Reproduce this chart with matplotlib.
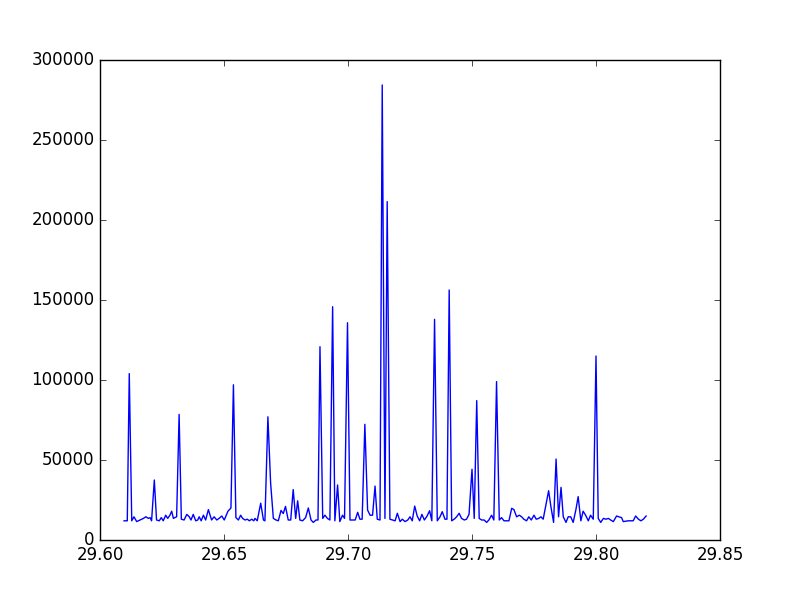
import matplotlib
matplotlib.use("Agg")
import matplotlib.pyplot as plt

# retention time (x) and intensity (y)
time = [
    29.6097, 29.6110, 29.6118, 29.6128, 29.6137, 29.6148, 29.6161, 29.6175,
    29.6185, 29.6195, 29.6202, 29.6208, 29.6219, 29.6228, 29.6239, 29.6247,
    29.6255, 29.6265, 29.6273, 29.6282, 29.6289, 29.6296, 29.6302, 29.6309,
    29.6319, 29.6328, 29.6339, 29.6350, 29.6360, 29.6367, 29.6376, 29.6386,
    29.6394, 29.6400, 29.6408, 29.6417, 29.6426, 29.6437, 29.6450, 29.6460,
    29.6471, 29.6480, 29.6491, 29.6501, 29.6516, 29.6528, 29.6538, 29.6548,
    29.6558, 29.6567, 29.6575, 29.6585, 29.6594, 29.6602, 29.6612, 29.6620,
    29.6625, 29.6634, 29.6648, 29.6659, 29.6665, 29.6677, 29.6688, 29.6699,
    29.6710, 29.6719, 29.6730, 29.6739, 29.6748, 29.6759, 29.6769, 29.6779,
    29.6789, 29.6797, 29.6806, 29.6817, 29.6829, 29.6840, 29.6851, 29.6860,
    29.6871, 29.6879, 29.6887, 29.6898, 29.6907, 29.6917, 29.6927, 29.6938,
    29.6947, 29.6958, 29.6967, 29.6978, 29.6986, 29.6998, 29.7008, 29.7021,
    29.7029, 29.7039, 29.7048, 29.7057, 29.7068, 29.7079, 29.7089, 29.7099,
    29.7109, 29.7118, 29.7129, 29.7138, 29.7149, 29.7158, 29.7169, 29.7180,
    29.7190, 29.7199, 29.7210, 29.7219, 29.7230, 29.7241, 29.7250, 29.7259,
    29.7269, 29.7279, 29.7289, 29.7298, 29.7308, 29.7319, 29.7329, 29.7338,
    29.7349, 29.7360, 29.7371, 29.7380, 29.7391, 29.7399, 29.7408, 29.7418,
    29.7428, 29.7438, 29.7448, 29.7458, 29.7469, 29.7478, 29.7488, 29.7500,
    29.7509, 29.7519, 29.7529, 29.7539, 29.7549, 29.7559, 29.7568, 29.7579,
    29.7588, 29.7599, 29.7610, 29.7619, 29.7629, 29.7640, 29.7649, 29.7660,
    29.7669, 29.7680, 29.7691, 29.7700, 29.7709, 29.7720, 29.7729, 29.7739,
    29.7750, 29.7759, 29.7769, 29.7778, 29.7787, 29.7798, 29.7809, 29.7818,
    29.7829, 29.7839, 29.7849, 29.7859, 29.7868, 29.7879, 29.7888, 29.7898,
    29.7908, 29.7919, 29.7928, 29.7939, 29.7948, 29.7958, 29.7969, 29.7978,
    29.7989, 29.8000, 29.8009, 29.8019, 29.8030, 29.8040, 29.8050, 29.8059,
    29.8070, 29.8083, 29.8092, 29.8103, 29.8110, 29.8130, 29.8150, 29.8160,
    29.8171, 29.8181, 29.8191, 29.8202,
]
intensity = [
    12000, 12000, 104000, 12000, 14500, 11500, 12500, 13500,
    14500, 13500, 14000, 12000, 37500, 12500, 12000, 14000,
    12000, 15500, 13500, 15500, 18000, 13500, 14000, 14500,
    78500, 13000, 12500, 16000, 14500, 12500, 16000, 12000,
    12500, 14500, 12000, 15500, 12500, 19000, 12500, 14500,
    12500, 13500, 15000, 12500, 18000, 20000, 97000, 14000,
    12500, 15500, 13500, 12500, 13000, 12000, 13000, 12000,
    13500, 12000, 23000, 12500, 12000, 77000, 35500, 13500,
    12500, 12000, 18500, 16500, 21000, 12500, 12500, 31500,
    13500, 24500, 12500, 12000, 14000, 20000, 12500, 11000,
    12500, 12500, 120800, 13500, 15500, 13500, 12500, 145800,
    12000, 34400, 11500, 15500, 13500, 135800, 12500, 12500,
    12500, 17300, 13000, 13000, 72300, 18700, 15500, 15500,
    33700, 13000, 12500, 284400, 13500, 211500, 13000, 12500,
    12000, 16700, 11500, 13000, 11500, 12500, 14500, 12000,
    21200, 15000, 12000, 16000, 12500, 15000, 18300, 12000,
    137900, 12000, 14500, 17700, 13000, 13000, 156250, 12000,
    13000, 14500, 16700, 13500, 12500, 13000, 16000, 44200,
    13500, 87100, 13500, 12500, 12500, 11000, 12500, 15500,
    12500, 99000, 12500, 14000, 12000, 12000, 12000, 19800,
    19000, 14500, 15500, 14500, 13000, 12000, 14500, 12500,
    15500, 13000, 13500, 14500, 13000, 21900, 30800, 21000,
    11000, 50600, 14500, 32900, 14500, 11000, 14500, 14500,
    11000, 19000, 27100, 12000, 18000, 15500, 12000, 15500,
    13000, 115000, 13500, 11000, 13500, 13000, 13500, 12500,
    11500, 15000, 14500, 14000, 11500, 12000, 12000, 15000,
    13000, 12000, 13000, 15000,
]

plt.style.use("classic")
plt.rcParams["figure.facecolor"] = "white"
plt.rcParams["savefig.facecolor"] = "white"

fig, ax = plt.subplots(figsize=(8, 6), dpi=100)
ax.plot(time, intensity, color="b", linewidth=1)
ax.set_xlim(29.60, 29.85)
ax.set_ylim(0, 300000)
ax.ticklabel_format(useOffset=False, style="plain")

fig.savefig("out.png", dpi=100)
